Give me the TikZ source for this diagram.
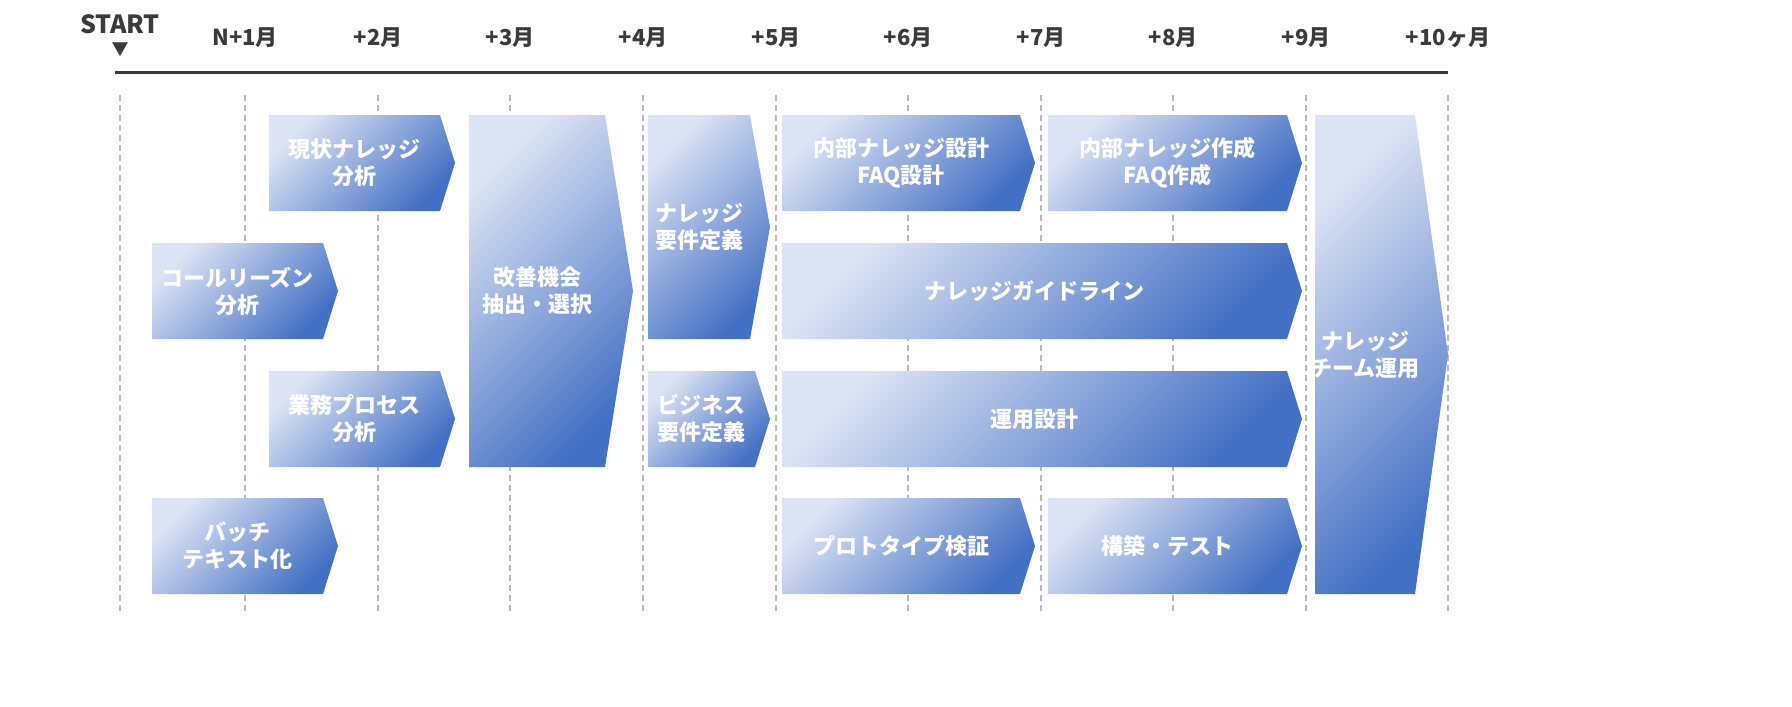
\documentclass[tikz,border=0pt]{standalone}
\usepackage{fontspec}
\setmainfont{Noto Sans CJK JP}
\definecolor{lite}{HTML}{DCE3F4}
\definecolor{deep}{HTML}{4470C4}
\definecolor{ink}{HTML}{3A3A3A}
\tikzset{
  chev/.style={top color=lite,bottom color=deep,shading angle=45,draw=none},
  lbl/.style={text=white,font=\fontsize{22}{27}\selectfont\bfseries,align=center},
  mon/.style={text=ink,font=\fontsize{22}{26}\selectfont\bfseries},
  grid/.style={draw=gray!55,line width=1.6pt,dash pattern=on 6pt off 4pt}
}
\newcommand\chevbox[7]{%
  \shade[chev] (#1,#4) -- (#2,#4) -- (#3,{(#4+#5)/2}) -- (#2,#5) -- (#1,#5) -- cycle;
  \node[lbl] (#6) at ({(#1+#2)/2},{(#4+#5)/2}) {#7};}
\begin{document}
\begin{tikzpicture}[x=1pt,y=-1pt]
\useasboundingbox (0,0) rectangle (1792,707);
\foreach \x in {120,245,378,510,643,776,908,1041,1173,1306,1448}
  \draw[grid] (\x,95) -- (\x,615);
\draw[ink,line width=3pt] (115,72) -- (1448,72);
\node[mon,font=\fontsize{25}{28}\selectfont\bfseries] (st) at (120,24) {START};
\node[ink,font=\fontsize{17}{18}\selectfont] (tri) at (120,50) {▼};
\foreach \x/\t [count=\i] in {245/N+1月,378/+2月,510/+3月,643/+4月,776/+5月,908/+6月,1041/+7月,1173/+8月,1306/+9月,1448/+10ヶ月}
  \node[mon] (m\i) at (\x,38) {\t};
\chevbox{269}{440}{455}{115}{211}{a1}{現状ナレッジ\\分析}
\chevbox{152}{323}{338}{243}{339}{a2}{コールリーズン\\分析}
\chevbox{269}{440}{455}{371}{467}{a3}{業務プロセス\\分析}
\chevbox{152}{323}{338}{498}{594}{a4}{バッチ\\テキスト化}
\chevbox{469}{605}{633}{115}{467}{b1}{改善機会\\抽出・選択}
\chevbox{648}{750}{770}{115}{339}{c1}{ナレッジ\\要件定義}
\chevbox{648}{755}{770}{371}{467}{c2}{ビジネス\\要件定義}
\chevbox{782}{1020}{1035}{115}{211}{d1}{内部ナレッジ設計\\FAQ設計}
\chevbox{1048}{1287}{1302}{115}{211}{d2}{内部ナレッジ作成\\FAQ作成}
\chevbox{782}{1287}{1302}{243}{339}{d3}{ナレッジガイドライン}
\chevbox{782}{1287}{1302}{371}{467}{d4}{運用設計}
\chevbox{782}{1020}{1035}{498}{594}{d5}{プロトタイプ検証}
\chevbox{1048}{1287}{1302}{498}{594}{d6}{構築・テスト}
\chevbox{1315}{1415}{1448}{115}{594}{e1}{ナレッジ\\チーム運用}
\end{tikzpicture}
\end{document}
